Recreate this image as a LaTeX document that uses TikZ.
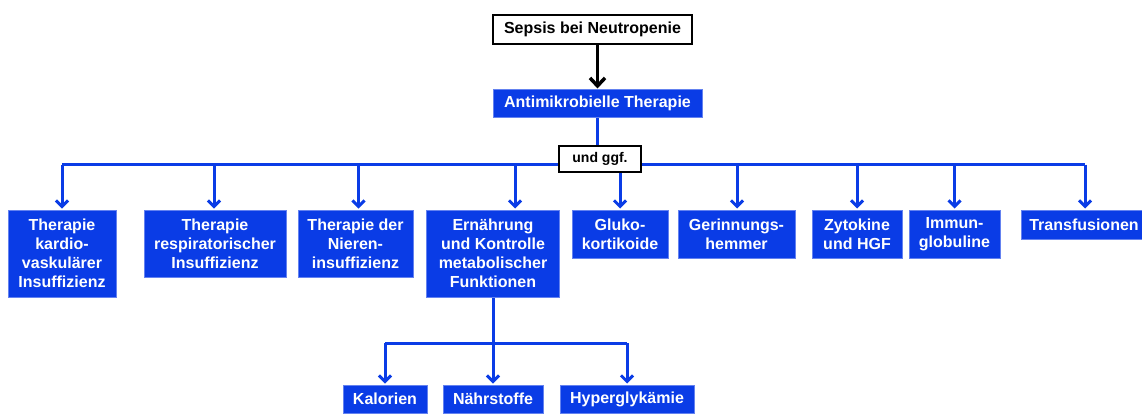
\documentclass[tikz,border=0pt]{standalone}
\usepackage{fontspec}
\setmainfont{Liberation Sans}
\usetikzlibrary{arrows.meta,backgrounds}
\definecolor{bfill}{RGB}{10,60,230}
\definecolor{bline}{RGB}{100,130,240}
\begin{document}
\begin{tikzpicture}[x=1pt,y=-1pt,
  bbox/.style={draw=bline,line width=1pt,fill=bfill,text=white,font=\fontsize{16}{19}\selectfont\bfseries,align=center,inner sep=0pt},
  wbox/.style={draw=black,line width=2pt,fill=white,text=black,font=\fontsize{16}{19}\selectfont\bfseries,align=center,inner sep=0pt},
  bl/.style={draw=bfill,line width=3pt},
  barr/.style={bl,-{Straight Barb[length=6pt,width=12pt,line width=3pt]}},
  karr/.style={draw=black,line width=3.5pt,-{Straight Barb[length=8pt,width=15pt,line width=3.5pt]}}]
\useasboundingbox (0,0) rectangle (1142,413);
\node[wbox,minimum width=199pt,minimum height=29pt] (sepsis) at (592.5,29.5) {Sepsis bei Neutropenie};
\node[bbox,minimum width=209pt,minimum height=28pt] (anti) at (597.5,103) {Antimikrobielle Therapie};
\node[wbox,minimum width=82pt,minimum height=26pt,font=\fontsize{14}{17}\selectfont\bfseries] (und) at (600,159) {und ggf.};
\coordinate (bus) at (600,164.5);
\node[bbox,minimum width=108pt,minimum height=87pt] (b1) at (62,253.5) {Therapie\\kardio-\\vaskulärer\\Insuffizienz};
\node[bbox,minimum width=142pt,minimum height=67pt] (b2) at (215,243.5) {Therapie\\respiratorischer\\Insuffizienz};
\node[bbox,minimum width=115pt,minimum height=67pt] (b3) at (355.5,243.5) {Therapie der\\Nieren-\\insuffizienz};
\node[bbox,minimum width=133pt,minimum height=87pt] (b4) at (493,253.5) {Ernährung\\und Kontrolle\\metabolischer\\Funktionen};
\node[bbox,minimum width=96pt,minimum height=48pt] (b5) at (620,234) {Gluko-\\kortikoide};
\node[bbox,minimum width=117pt,minimum height=48pt] (b6) at (736.5,234) {Gerinnungs-\\hemmer};
\node[bbox,minimum width=90pt,minimum height=48pt] (b7) at (857,234) {Zytokine\\und HGF};
\node[bbox,minimum width=91pt,minimum height=48pt] (b8) at (954.5,234) {Immun-\\globuline};
\node[bbox,minimum width=126pt,minimum height=29pt] (b9) at (1084,224.5) {Transfusionen};
\coordinate (bus2) at (493,343);
\node[bbox,minimum width=84pt,minimum height=28pt] (k1) at (385,399) {Kalorien};
\node[bbox,minimum width=100pt,minimum height=28pt] (k2) at (493,399) {Nährstoffe};
\node[bbox,minimum width=134pt,minimum height=28pt] (k3) at (627,399) {Hyperglykämie};
\begin{pgfonlayer}{background}
\draw[karr] (sepsis.south -| anti.north) -- (anti.north);
\draw[bl] (anti.south) -- (und.north -| anti.south);
\draw[bl] (b1.north |- bus) -- ([xshift=1pt]b9.north |- bus);
\foreach \n/\dx in {b1/0,b2/-1,b3/3,b4/22,b5/0,b6/0.5,b7/0,b8/0,b9/1}
  \draw[barr] ([xshift=\dx pt]\n.north |- bus) -- ([xshift=\dx pt,yshift=1pt]\n.north);
\draw[bl] (b4.south) -- (bus2);
\draw[bl] (k1.north |- bus2) -- (k3.north |- bus2);
\foreach \n in {k1,k2,k3}
  \draw[barr] (\n.north |- bus2) -- ([yshift=1pt]\n.north);
\end{pgfonlayer}
\end{tikzpicture}
\end{document}
